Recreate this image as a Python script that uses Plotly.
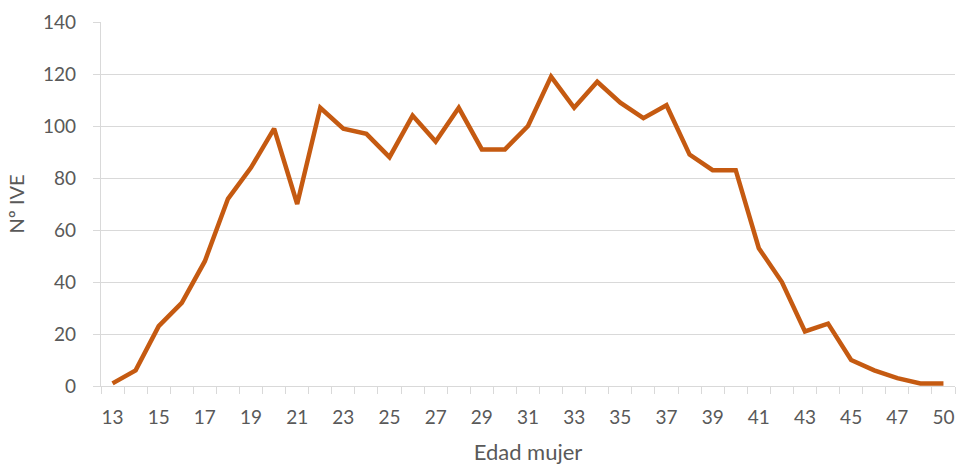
import plotly.graph_objects as go

edad = ["13","14","15","16","17","18","19","20","21","22","23","24","25","26","27","28","29","30",
        "31","32","33","34","35","36","37","38","39","40","41","42","43","44","45","46","47","48","50"]
ive = [1,6,23,32,48,72,84,99,70,107,99,97,88,104,94,107,91,91,
       100,119,107,117,109,103,108,89,83,83,53,40,21,24,10,6,3,1,1]
tick_text = [e if i % 2 == 0 else "" for i, e in enumerate(edad)]
y_ticks = [0, 20, 40, 60, 80, 100, 120, 140]

font_family = "Lato, Open Sans, sans-serif"
grey = "#595959"
axis_grey = "#d9d9d9"

fig = go.Figure()
fig.add_trace(go.Scatter(x=edad, y=ive, mode="lines",
                         line=dict(color="#C55A11", width=4.5), showlegend=False))

fig.update_layout(
    width=957, height=465,
    margin=dict(l=101, r=2, t=22, b=79),
    plot_bgcolor="white", paper_bgcolor="white",
    font=dict(family=font_family, size=19, color=grey),
)
fig.update_xaxes(
    type="category", categoryorder="array", categoryarray=edad,
    range=[-0.5, len(edad) - 0.5], automargin=False,
    tickmode="array", tickvals=edad, ticktext=tick_text, tickangle=0,
    tickson="boundaries", ticks="outside", ticklen=7, tickcolor=axis_grey, tickwidth=1.3,
    ticklabelstandoff=14,
    showline=True, linecolor=axis_grey, linewidth=1.3,
    showgrid=False, zeroline=False,
    tickfont=dict(size=19, color=grey),
    title=dict(text="Edad mujer", font=dict(size=22, color=grey), standoff=28),
)
fig.update_yaxes(
    range=[0, 140], tickmode="array", tickvals=y_ticks, automargin=False,
    ticks="outside", ticklen=7, tickcolor=axis_grey, tickwidth=1.3,
    ticklabelstandoff=13,
    showline=True, linecolor=axis_grey, linewidth=1.3,
    showgrid=True, gridcolor=axis_grey, gridwidth=1.3, zeroline=False,
    tickfont=dict(size=19, color=grey),
    title=dict(text="Nº IVE", font=dict(size=20, color=grey), standoff=12),
)
fig.write_html("out.html", config={"displayModeBar": False},
               post_script="document.body.style.margin='0';document.body.style.overflow='hidden';")
